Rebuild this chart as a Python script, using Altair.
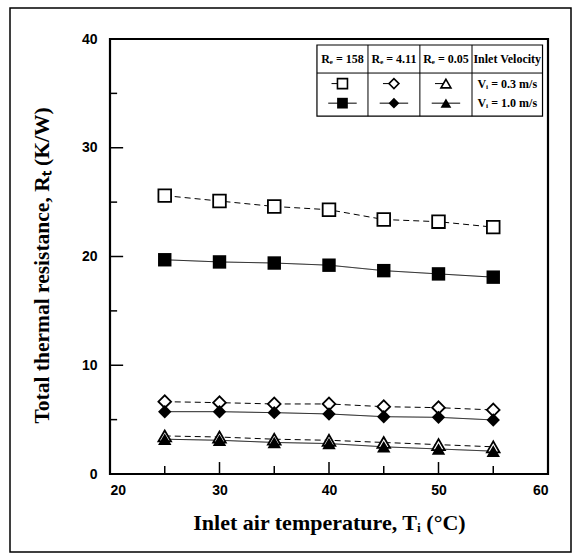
import altair as alt
import pandas as pd

# ---- data ----
temps = [25, 30, 35, 40, 45, 50, 55]
sq_low = [25.6, 25.1, 24.6, 24.3, 23.4, 23.2, 22.7]     # Re=158, Vi=0.3
sq_high = [19.7, 19.5, 19.4, 19.2, 18.7, 18.4, 18.1]    # Re=158, Vi=1.0
dia_low = [6.65, 6.56, 6.44, 6.44, 6.19, 6.1, 5.89]     # Re=4.11, Vi=0.3
dia_high = [5.73, 5.73, 5.64, 5.52, 5.27, 5.21, 4.97]   # Re=4.11, Vi=1.0
tri_low = [3.5, 3.4, 3.2, 3.1, 2.9, 2.7, 2.5]           # Re=0.05, Vi=0.3
tri_high = [3.2, 3.1, 2.9, 2.8, 2.5, 2.3, 2.1]          # Re=0.05, Vi=1.0

x_ticks = [20, 30, 40, 50, 60]
y_ticks = [0, 10, 20, 30, 40]
x_minor = [25, 30, 35, 40, 45, 50, 55]
y_minor = [5, 10, 15, 20, 25, 30, 35]

headers = ["Rₑ = 158", "Rₑ = 4.11", "Rₑ = 0.05", "Inlet Velocity"]
vel_labels = ["Vᵢ = 0.3 m/s", "Vᵢ = 1.0 m/s"]
shapes = ["square", "diamond", "triangle-up"]

rows = []
for shp, lo, hi in [("square", sq_low, sq_high), ("diamond", dia_low, dia_high),
                    ("triangle-up", tri_low, tri_high)]:
    for t, v in zip(temps, lo):
        rows.append({"T": t, "R": v, "shape": shp, "vel": "0.3"})
    for t, v in zip(temps, hi):
        rows.append({"T": t, "R": v, "shape": shp, "vel": "1.0"})
df = pd.DataFrame(rows)

xs = alt.Scale(domain=[20, 60], nice=False)
ys = alt.Scale(domain=[0, 40], nice=False)
SERIF = "Liberation Serif"
SANS = "Liberation Sans"

X = alt.X("T:Q", scale=xs, axis=alt.Axis(
    values=x_ticks, tickSize=0, domain=False, grid=False, labelFont=SANS,
    labelFontWeight="bold", labelFontSize=14, labelPadding=9, labelColor="black",
    title="Inlet air temperature, Tᵢ (°C)", titleFont=SERIF, titleFontSize=22,
    titleFontWeight="bold", titleColor="black", titleBaseline="middle", titleY=48))
Y = alt.Y("R:Q", scale=ys, axis=alt.Axis(
    values=y_ticks, tickSize=0, domain=False, grid=False, labelFont=SANS,
    labelFontWeight="bold", labelFontSize=14, labelPadding=13, labelColor="black",
    title="Total thermal resistance, Rₜ (K/W)", titleFont=SERIF, titleFontSize=21.5,
    titleFontWeight="bold", titleColor="black", titleBaseline="middle", titleX=-68,
    titleY=226))

base = alt.Chart(df)
lines = base.mark_line(color="black", strokeWidth=1).encode(
    x=X, y=Y, detail="shape:N",
    strokeDash=alt.StrokeDash("vel:N", scale=alt.Scale(domain=["0.3", "1.0"],
                              range=[[6, 4], [1, 0]]), legend=None))
shape_scale = alt.Scale(domain=shapes, range=shapes)
open_pts = base.transform_filter("datum.vel == '0.3'").mark_point(
    filled=True, fill="white", stroke="black", strokeWidth=1.8, size=160, opacity=1
).encode(x="T:Q", y="R:Q", shape=alt.Shape("shape:N", scale=shape_scale, legend=None))
fill_pts = base.transform_filter("datum.vel == '1.0'").mark_point(
    filled=True, color="black", size=180, opacity=1
).encode(x="T:Q", y="R:Q", shape=alt.Shape("shape:N", scale=shape_scale, legend=None))

# inward tick marks
xt = pd.DataFrame({"x": x_minor, "y0": [0] * 7,
                   "y1": [0.74 if v % 10 else 1.1 for v in x_minor]})
xtick = alt.Chart(xt).mark_rule(color="black", strokeWidth=1.5).encode(
    x="x:Q", y="y0:Q", y2="y1:Q")
yt = pd.DataFrame({"y": y_minor, "x0": [20] * 7,
                   "x1": [20.65 if v % 10 else 21.2 for v in y_minor]})
ytick = alt.Chart(yt).mark_rule(color="black", strokeWidth=1.5).encode(
    y="y:Q", x="x0:Q", x2="x1:Q")

# legend table (in data coordinates)
col_edges = [38.9, 43.56, 48.3, 53.06, 59.5]
tab_top, tab_mid, tab_bot = 39.45, 36.87, 32.9
row_y = [35.9, 34.1]
head_y = 38.16

tbl_rect = alt.Chart(pd.DataFrame({"x": [col_edges[0]], "x2": [col_edges[-1]],
                                   "y": [tab_bot], "y2": [tab_top]})).mark_rect(
    fill="white", stroke="black", strokeWidth=1.2).encode(
    x="x:Q", x2="x2:Q", y="y:Q", y2="y2:Q")
vlines = alt.Chart(pd.DataFrame({"x": col_edges[1:-1]})).mark_rule(
    color="black", strokeWidth=1).encode(
    x="x:Q", y=alt.datum(tab_bot), y2=alt.datum(tab_top))
hline = alt.Chart(pd.DataFrame({"y": [tab_mid]})).mark_rule(
    color="black", strokeWidth=1).encode(
    y="y:Q", x=alt.datum(col_edges[0]), x2=alt.datum(col_edges[-1]))
centers = [(col_edges[i] + col_edges[i + 1]) / 2 for i in range(4)]
head_txt = alt.Chart(pd.DataFrame({"x": centers, "y": [head_y] * 4, "t": headers})).mark_text(
    font=SERIF, fontWeight="bold", fontSize=12, color="black").encode(
    x="x:Q", y="y:Q", text="t:N")
vel_txt = alt.Chart(pd.DataFrame({"x": [centers[3]] * 2, "y": row_y, "t": vel_labels})).mark_text(
    font=SERIF, fontWeight="bold", fontSize=12, color="black").encode(
    x="x:Q", y="y:Q", text="t:N")

seg_rows = []
sym_rows = []
for i, shp in enumerate(shapes):
    c = centers[i]
    seg_rows.append({"x": c - 1.0, "x2": c, "y": row_y[0]})
    seg_rows.append({"x": c - 1.3, "x2": c + 1.3, "y": row_y[1]})
    sym_rows.append({"x": c, "y": row_y[0], "shape": shp, "vel": "0.3"})
    sym_rows.append({"x": c, "y": row_y[1], "shape": shp, "vel": "1.0"})
segs = alt.Chart(pd.DataFrame(seg_rows)).mark_rule(color="black", strokeWidth=1).encode(
    x="x:Q", x2="x2:Q", y="y:Q")
sym = pd.DataFrame(sym_rows)
sym_open = alt.Chart(sym).transform_filter("datum.vel == '0.3'").mark_point(
    filled=True, fill="white", stroke="black", strokeWidth=1.6, size=100, opacity=1).encode(
    x="x:Q", y="y:Q", shape=alt.Shape("shape:N", scale=shape_scale, legend=None))
sym_fill = alt.Chart(sym).transform_filter("datum.vel == '1.0'").mark_point(
    filled=True, color="black", size=115, opacity=1).encode(
    x="x:Q", y="y:Q", shape=alt.Shape("shape:N", scale=shape_scale, legend=None))

# outer frame (decorative)
frame = alt.Chart(pd.DataFrame({"a": [0]})).mark_rect(
    fill=None, stroke="black", strokeWidth=1.5).encode(
    x=alt.value(-100), x2=alt.value(461), y=alt.value(-31), y2=alt.value(513))

chart = alt.layer(
    lines, open_pts, fill_pts, xtick, ytick,
    tbl_rect, vlines, hline, head_txt, vel_txt, segs, sym_open, sym_fill, frame
).properties(
    width=438, height=435, autosize="none",
    padding={"left": 110, "top": 39, "right": 29, "bottom": 84},
    background="white"
).configure_view(stroke="black", strokeWidth=2.2)

chart.save("out.html", embed_options={"renderer": "svg", "actions": False})
